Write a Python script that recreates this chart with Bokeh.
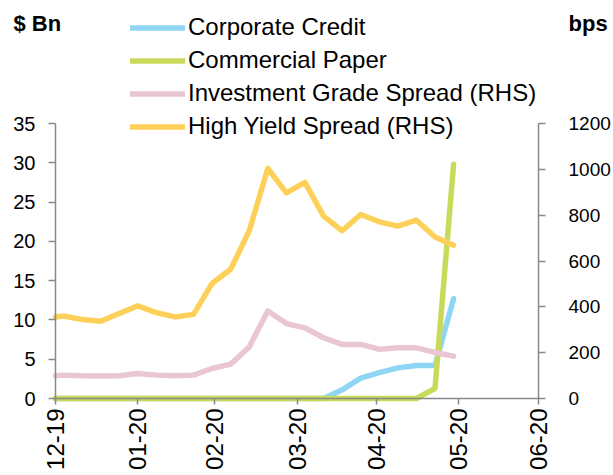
import math
import pandas as pd
from bokeh.plotting import figure
from bokeh.models import (ColumnDataSource, Range1d, LinearAxis, FixedTicker,
                          Legend, LegendItem, Label, DatetimeTickFormatter)
from bokeh.embed import file_html
from bokeh.resources import INLINE

# ---- data ----
dates = ["2019-12-31", "2020-01-03", "2020-01-10", "2020-01-17", "2020-01-24",
         "2020-01-31", "2020-02-07", "2020-02-14", "2020-02-21", "2020-02-28",
         "2020-03-06", "2020-03-13", "2020-03-20", "2020-03-27", "2020-04-03",
         "2020-04-10", "2020-04-17", "2020-04-24", "2020-05-01", "2020-05-08",
         "2020-05-15", "2020-05-22", "2020-05-29"]
corporate_credit = [0, 0, 0, 0, 0, 0, 0, 0, 0, 0, 0, 0, 0, 0, 0, 0,
                    1.1, 2.6, 3.3, 3.9, 4.2, 4.2, 12.7]
commercial_paper = [0, 0, 0, 0, 0, 0, 0, 0, 0, 0, 0, 0, 0, 0, 0, 0, 0, 0, 0, 0, 0,
                    1.3, 29.8]
ig_spread = [99, 102, 99, 98, 99, 109, 102, 99, 102, 131, 150, 225, 382, 327, 308,
             265, 236, 236, 215, 221, 221, 201, 185]
hy_spread = [356, 360, 345, 337, 371, 404, 375, 356, 367, 502, 564, 732, 1004, 897,
             943, 796, 732, 803, 771, 752, 778, 705, 669]

tick_dates = ["2019-12-31", "2020-01-31", "2020-02-29", "2020-03-31",
              "2020-04-30", "2020-05-31", "2020-06-30"]
tick_labels = ["12-19", "01-20", "02-20", "03-20", "04-20", "05-20", "06-20"]
left_ticks = [0, 5, 10, 15, 20, 25, 30, 35]
right_ticks = [0, 200, 400, 600, 800, 1000, 1200]
left_max, right_max = 35, 1200

series_names = ["Corporate Credit", "Commercial Paper",
                "Investment Grade Spread (RHS)", "High Yield Spread (RHS)"]
colors = ["#8FD6F5", "#C9DA5A", "#E9C6D1", "#FDD159"]

left_title = "$ Bn"
right_title = "bps"

FONT = "Liberation Sans"
AXIS_COLOR = "#898989"

# ---- layout (pixels) ----
W, H = 613, 475
PL, PR, PT, PB = 55, 538, 123, 398   # plot-area edges on the canvas

src = ColumnDataSource(dict(
    x=pd.to_datetime(dates),
    cc=corporate_credit, cp=commercial_paper, ig=ig_spread, hy=hy_spread))

x0 = pd.Timestamp(tick_dates[0]).value / 1e6
x1 = pd.Timestamp(tick_dates[-1]).value / 1e6
ms_per_px = (x1 - x0) / (PR - PL)
l_per_px = left_max / (PB - PT)
r_per_px = right_max / (PB - PT)

# the frame fills the whole canvas; axes are pinned at the plot-area edges
p = figure(width=W, height=H, output_backend="svg", toolbar_location=None,
           x_axis_type="datetime",
           x_range=Range1d(x0 - PL * ms_per_px, x1 + (W - PR) * ms_per_px),
           y_range=Range1d(-(H - PB) * l_per_px, left_max + PT * l_per_px),
           min_border=0, min_border_left=0, min_border_right=0,
           min_border_top=0, min_border_bottom=0)
p.outline_line_color = None
p.xgrid.grid_line_color = None
p.ygrid.grid_line_color = None
p.background_fill_color = "white"
p.border_fill_color = "white"

p.extra_y_ranges = {"bps": Range1d(-(H - PB) * r_per_px, right_max + PT * r_per_px)}
raxis = LinearAxis(y_range_name="bps")
p.add_layout(raxis, "right")

tick_ms = [pd.Timestamp(d).value / 1e6 for d in tick_dates]
xa = p.xaxis[0]
xa.ticker = FixedTicker(ticks=tick_ms)
xa.formatter = DatetimeTickFormatter(days="%m-%y", months="%m-%y", years="%m-%y")
xa.major_label_overrides = {t: l for t, l in zip(tick_ms, tick_labels)}
xa.major_label_orientation = math.pi / 2
xa.fixed_location = 0
xa.bounds = (x0, x1)

ya = p.yaxis[0]
ya.ticker = FixedTicker(ticks=left_ticks)
ya.fixed_location = x0
ya.bounds = (0, left_max)

raxis.ticker = FixedTicker(ticks=right_ticks)
raxis.fixed_location = x1
raxis.bounds = (0, right_max)

for ax in (xa, ya, raxis):
    ax.axis_line_color = AXIS_COLOR
    ax.axis_line_width = 1.5
    ax.major_tick_line_color = AXIS_COLOR
    ax.major_tick_line_width = 1.5
    ax.major_tick_in = 0
    ax.major_tick_out = 7
    ax.minor_tick_line_color = None
    ax.major_label_text_font = FONT
    ax.major_label_text_font_size = "20px"
    ax.major_label_text_color = "black"
ya.major_label_standoff = 13
raxis.major_label_standoff = 23
raxis.major_label_text_font_size = "19px"
xa.major_label_standoff = 4
xa.major_tick_out = 6
xa.major_label_text_font_size = "24px"

common = dict(line_width=5.5, line_cap="round", line_join="round")
r_cc = p.line("x", "cc", source=src, line_color=colors[0], **common)
r_cp = p.line("x", "cp", source=src, line_color=colors[1], **common)
r_ig = p.line("x", "ig", source=src, line_color=colors[2], y_range_name="bps", **common)
r_hy = p.line("x", "hy", source=src, line_color=colors[3], y_range_name="bps", **common)

legend = Legend(items=[LegendItem(label=n, renderers=[r])
                       for n, r in zip(series_names, [r_cc, r_cp, r_ig, r_hy])],
                location=(130, H - 142.5), orientation="vertical",
                glyph_width=55, glyph_height=33, label_height=33,
                label_standoff=3, spacing=0, padding=0, margin=0,
                border_line_alpha=0, background_fill_alpha=0,
                label_text_font=FONT, label_text_font_size="24px",
                label_text_color="black")
p.add_layout(legend)

for txt, xx in ((left_title, 13), (right_title, 568)):
    p.add_layout(Label(x=xx, y=H - 22.5, x_units="screen", y_units="screen",
                       text=txt, text_font=FONT, text_font_size="22px",
                       text_font_style="bold", text_color="black",
                       text_baseline="alphabetic"))

open("out.html", "w").write(file_html(p, INLINE))
